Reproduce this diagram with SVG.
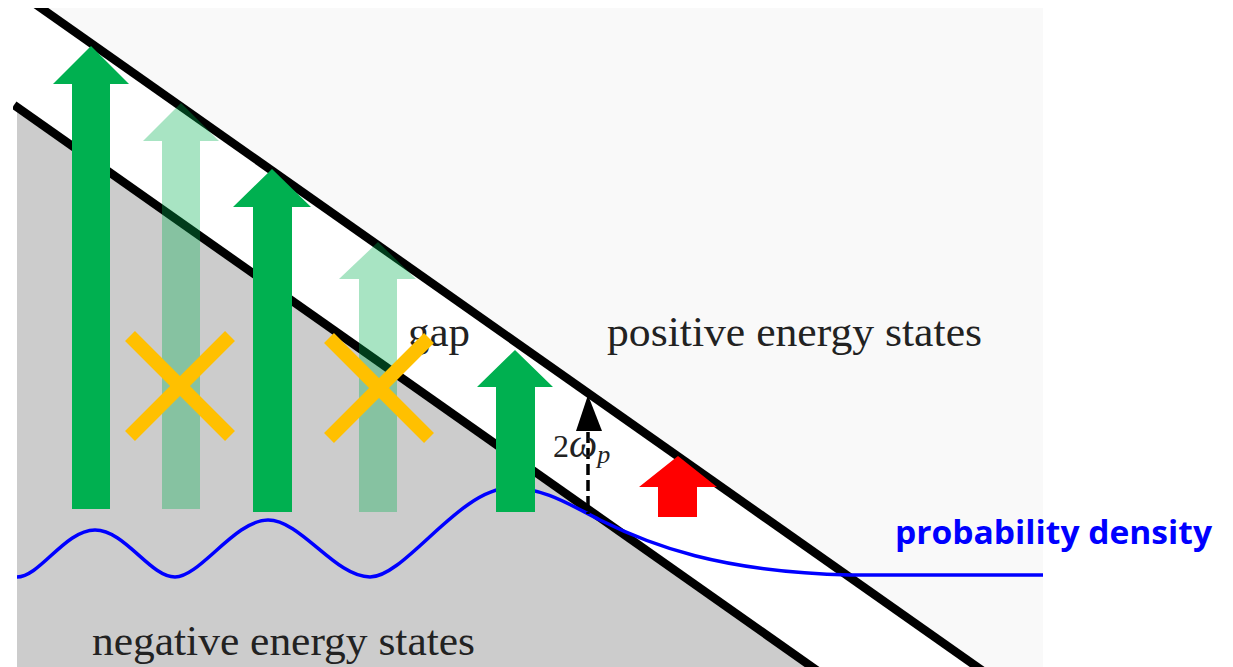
<svg xmlns="http://www.w3.org/2000/svg" width="1233" height="667" viewBox="0 0 1233 667">
  <defs>
    <clipPath id="img"><rect x="13" y="8" width="1030" height="659"/></clipPath>
    <style>
      .serif { font-family: "Liberation Serif", "Times New Roman", serif; fill: #222; }
      .solid { fill: #00B050; }
      .light { fill: #00B050; fill-opacity: 0.34; }
      .cross { stroke: #FFC000; stroke-width: 14; fill: none; }
      .band { stroke: #000; stroke-width: 8.5; fill: none; }
    </style>
  </defs>
  <rect width="1233" height="667" fill="#fff"/>
  <g id="background" clip-path="url(#img)">
    <rect x="17" y="8" width="1026" height="659" fill="#fff"/>
    <polygon points="41,8 1043,8 1043,667 977,667" fill="#f9f9f9"/>
    <polygon points="17,107 812,667 17,667" fill="#cccccc"/>
    <line class="band" x1="31" y1="1" x2="990" y2="676"/>
    <line class="band" x1="14" y1="105" x2="822" y2="674"/>
  </g>
  <g id="labels">
    <text class="serif" x="408" y="346" font-size="42" textLength="62" lengthAdjust="spacingAndGlyphs">gap</text>
    <text class="serif" x="607" y="346" font-size="42" textLength="375" lengthAdjust="spacingAndGlyphs">positive energy states</text>
    <text class="serif" x="92" y="655" font-size="42" textLength="383" lengthAdjust="spacingAndGlyphs">negative energy states</text>
  </g>
  <g id="connectors">
    <path id="wave" d="M17,577 C40,577 65,530 95,530 S150,577 175,577 S235,520 268,520 S335,577 370,577 S460,488 510,488 C545,488 570,505 600,520 C650,545 720,572 850,575 L1043,575" fill="none" stroke="#0000ff" stroke-width="3.5"/>
    <line x1="588" y1="432" x2="588" y2="514" stroke="#000" stroke-width="3.5" stroke-dasharray="11,5"/>
  </g>
  <g id="arrow1"><polygon class="solid" points="72,509 72,84 53,84 91,46 129,84 110,84 110,509"/></g>
  <g id="arrow2"><polygon class="light" points="162,509 162,141 143,141 181,103 219,141 200,141 200,509"/></g>
  <g id="arrow3"><polygon class="solid" points="253,512 253,207 233,207 272,169 311,207 292,207 292,512"/></g>
  <g id="arrow4"><polygon class="light" points="359,512 359,279 339,279 378,242 416,279 397,279 397,512"/></g>
  <g id="arrow5"><polygon class="solid" points="496,512 496,387 477,387 515,350 553,387 535,387 535,512"/></g>
  <g id="arrow-red"><polygon fill="#ff0000" points="658,517 658,487 639,487 678,456 717,487 697,487 697,517"/></g>
  <g id="omega-arrow">
    <polygon fill="#000" points="588,395 602,431 576,431"/>
    <text class="serif" x="553" y="457" font-size="32">2<tspan font-style="italic" font-size="40">ω</tspan><tspan font-style="italic" font-size="26" dy="6">p</tspan></text>
  </g>
  <g id="cross1">
    <line class="cross" x1="130" y1="336" x2="230" y2="436"/>
    <line class="cross" x1="130" y1="436" x2="230" y2="336"/>
  </g>
  <g id="cross2">
    <line class="cross" x1="329" y1="338" x2="429" y2="438"/>
    <line class="cross" x1="329" y1="438" x2="429" y2="338"/>
  </g>
  <g id="probability-label">
    <text x="895" y="544" font-family="'Open Sans', 'Noto Sans', sans-serif" font-weight="bold" font-size="33" textLength="317" lengthAdjust="spacingAndGlyphs" fill="#0000ff">probability density</text>
  </g>
</svg>
